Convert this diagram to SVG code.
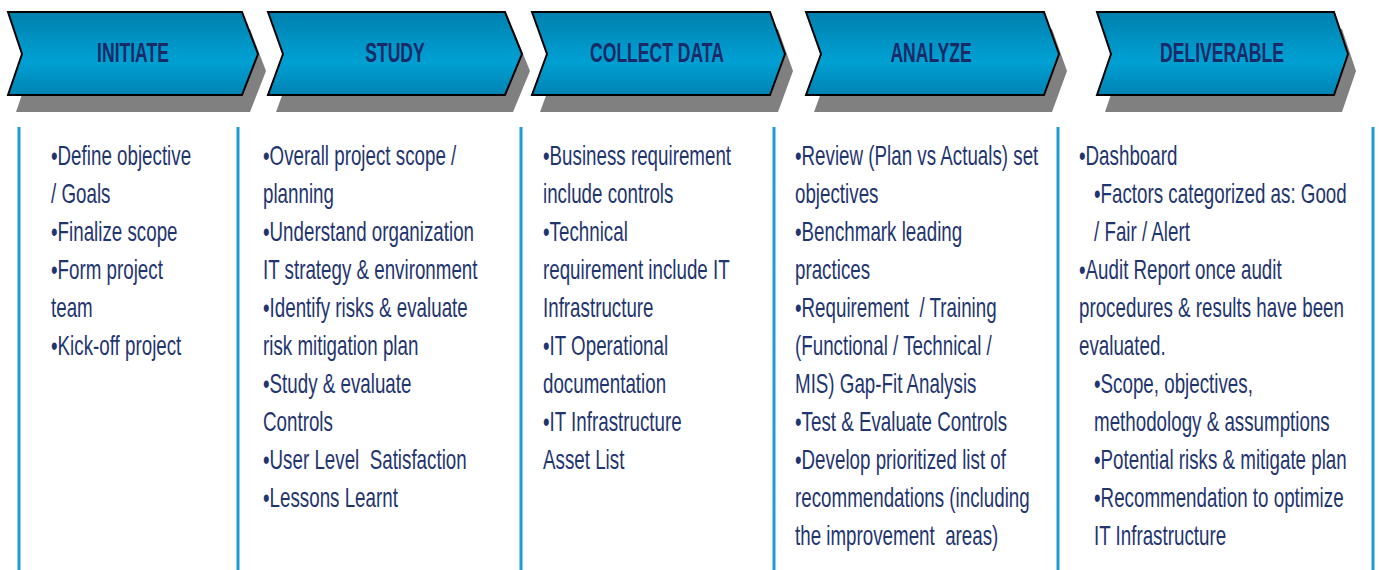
<svg xmlns="http://www.w3.org/2000/svg" width="1379" height="570" viewBox="0 0 1379 570">
<defs>
<linearGradient id="chev" x1="0" y1="0" x2="0" y2="1">
<stop offset="0" stop-color="#0080ad"/>
<stop offset="0.45" stop-color="#0099cb"/>
<stop offset="0.6" stop-color="#00a0d3"/>
<stop offset="1" stop-color="#0083b3"/>
</linearGradient>
</defs>
<style>
.shadow{fill:#808080}
.chev{fill:url(#chev);stroke:#000;stroke-width:2;stroke-linejoin:miter}
.lbl{font-family:"Liberation Sans",Arial,sans-serif;font-size:27px;font-weight:bold;fill:#1b2a66;text-anchor:middle}
.body{font-family:"Liberation Sans",Arial,sans-serif;font-size:27px;fill:#1f3570;white-space:pre}
.div{stroke:#1f9ad6;stroke-width:3}
</style>
<rect width="1379" height="570" fill="#ffffff"/>

<g id="initiate">
<path class="shadow" d="M16,29 L250,29 L266,71 L250,112 L16,112 L30,71 Z"/>
<path class="chev" d="M8,12 L242,12 L258,54 L242,95 L8,95 L22,54 Z"/>
<text class="lbl" transform="translate(133,62) scale(0.65,1)" x="0" y="0">INITIATE</text>
</g>
<g id="study">
<path class="shadow" d="M276,29 L513,29 L530,71 L513,112 L276,112 L291,71 Z"/>
<path class="chev" d="M268,12 L505,12 L522,54 L505,95 L268,95 L283,54 Z"/>
<text class="lbl" transform="translate(395,62) scale(0.65,1)" x="0" y="0">STUDY</text>
</g>
<g id="collect-data">
<path class="shadow" d="M540,29 L778,29 L793,71 L778,112 L540,112 L555,71 Z"/>
<path class="chev" d="M532,12 L770,12 L785,54 L770,95 L532,95 L547,54 Z"/>
<text class="lbl" transform="translate(657,62) scale(0.65,1)" x="0" y="0">COLLECT DATA</text>
</g>
<g id="analyze">
<path class="shadow" d="M814,29 L1052,29 L1067,71 L1052,112 L814,112 L829,71 Z"/>
<path class="chev" d="M806,12 L1044,12 L1059,54 L1044,95 L806,95 L821,54 Z"/>
<text class="lbl" transform="translate(931,62) scale(0.65,1)" x="0" y="0">ANALYZE</text>
</g>
<g id="deliverable">
<path class="shadow" d="M1105,29 L1342,29 L1356,71 L1342,112 L1105,112 L1119,71 Z"/>
<path class="chev" d="M1097,12 L1334,12 L1348,54 L1334,95 L1097,95 L1111,54 Z"/>
<text class="lbl" transform="translate(1222,62) scale(0.65,1)" x="0" y="0">DELIVERABLE</text>
</g>

<g id="dividers">
<line class="div" x1="19" y1="127" x2="19" y2="570"/>
<line class="div" x1="238" y1="127" x2="238" y2="570"/>
<line class="div" x1="521" y1="127" x2="521" y2="570"/>
<line class="div" x1="774" y1="127" x2="774" y2="570"/>
<line class="div" x1="1058" y1="127" x2="1058" y2="570"/>
<line class="div" x1="1373" y1="127" x2="1373" y2="570"/>
</g>

<g id="initiate-items" transform="translate(51,0) scale(0.695,1)">
<text class="body" x="0" y="165">•Define objective</text>
<text class="body" x="0" y="203">/ Goals</text>
<text class="body" x="0" y="241">•Finalize scope</text>
<text class="body" x="0" y="279">•Form project</text>
<text class="body" x="0" y="317">team</text>
<text class="body" x="0" y="355">•Kick-off project</text>
</g>

<g id="study-items" transform="translate(263,0) scale(0.695,1)">
<text class="body" x="0" y="165">•Overall project scope /</text>
<text class="body" x="0" y="203">planning</text>
<text class="body" x="0" y="241">•Understand organization</text>
<text class="body" x="0" y="279">IT strategy &amp; environment</text>
<text class="body" x="0" y="317">•Identify risks &amp; evaluate</text>
<text class="body" x="0" y="355">risk mitigation plan</text>
<text class="body" x="0" y="393">•Study &amp; evaluate</text>
<text class="body" x="0" y="431">Controls</text>
<text class="body" x="0" y="469">•User Level  Satisfaction</text>
<text class="body" x="0" y="507">•Lessons Learnt</text>
</g>

<g id="collect-items" transform="translate(543,0) scale(0.695,1)">
<text class="body" x="0" y="165">•Business requirement</text>
<text class="body" x="0" y="203">include controls</text>
<text class="body" x="0" y="241">•Technical</text>
<text class="body" x="0" y="279">requirement include IT</text>
<text class="body" x="0" y="317">Infrastructure</text>
<text class="body" x="0" y="355">•IT Operational</text>
<text class="body" x="0" y="393">documentation</text>
<text class="body" x="0" y="431">•IT Infrastructure</text>
<text class="body" x="0" y="469">Asset List</text>
</g>

<g id="analyze-items" transform="translate(795,0) scale(0.695,1)">
<text class="body" x="0" y="165">•Review (Plan vs Actuals) set</text>
<text class="body" x="0" y="203">objectives</text>
<text class="body" x="0" y="241">•Benchmark leading</text>
<text class="body" x="0" y="279">practices</text>
<text class="body" x="0" y="317">•Requirement  / Training</text>
<text class="body" x="0" y="355">(Functional / Technical /</text>
<text class="body" x="0" y="393">MIS) Gap-Fit Analysis</text>
<text class="body" x="0" y="431">•Test &amp; Evaluate Controls</text>
<text class="body" x="0" y="469">•Develop prioritized list of</text>
<text class="body" x="0" y="507">recommendations (including</text>
<text class="body" x="0" y="545">the improvement  areas)</text>
</g>

<g id="deliverable-items" transform="translate(1079,0) scale(0.695,1)">
<text class="body" x="0" y="165">•Dashboard</text>
<text class="body" x="21.6" y="203">•Factors categorized as: Good</text>
<text class="body" x="21.6" y="241">/ Fair / Alert</text>
<text class="body" x="0" y="279">•Audit Report once audit</text>
<text class="body" x="0" y="317">procedures &amp; results have been</text>
<text class="body" x="0" y="355">evaluated.</text>
<text class="body" x="21.6" y="393">•Scope, objectives,</text>
<text class="body" x="21.6" y="431">methodology &amp; assumptions</text>
<text class="body" x="21.6" y="469">•Potential risks &amp; mitigate plan</text>
<text class="body" x="21.6" y="507">•Recommendation to optimize</text>
<text class="body" x="21.6" y="545">IT Infrastructure</text>
</g>
</svg>
